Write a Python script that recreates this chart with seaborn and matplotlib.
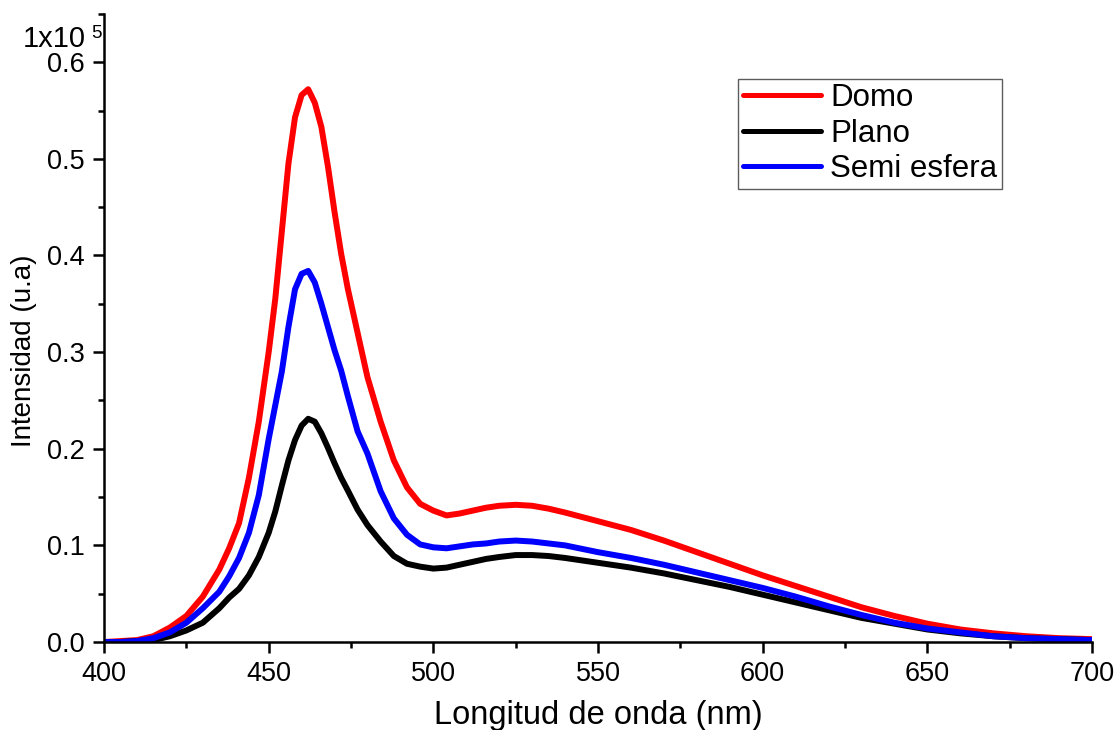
import numpy as np
import pandas as pd
import matplotlib
matplotlib.use("Agg")
import matplotlib.pyplot as plt
import seaborn as sns
from matplotlib.ticker import MultipleLocator

wavelength = [400, 405, 410, 415, 420, 425, 430, 435, 438, 441, 444, 447, 450, 452, 454, 456, 458, 460, 462,
              464, 466, 468, 470, 472, 474, 477, 480, 484, 488, 492, 496, 500, 504, 508, 512, 516, 520, 525,
              530, 535, 540, 550, 560, 570, 580, 590, 600, 610, 620, 630, 640, 650, 660, 670, 680, 690, 700]

domo = [0.000, 0.001, 0.002, 0.006, 0.015, 0.027, 0.047, 0.075, 0.097, 0.123, 0.170, 0.228, 0.300, 0.355, 0.425, 0.495, 0.543, 0.566, 0.572,
        0.558, 0.533, 0.492, 0.445, 0.402, 0.366, 0.320, 0.274, 0.228, 0.188, 0.160, 0.143, 0.136, 0.131, 0.133, 0.136, 0.139, 0.141, 0.142,
        0.141, 0.138, 0.134, 0.125, 0.116, 0.105, 0.093, 0.081, 0.069, 0.058, 0.047, 0.036, 0.027, 0.019, 0.013, 0.009, 0.006, 0.004, 0.003]

plano = [0.000, 0.000, 0.001, 0.002, 0.006, 0.012, 0.020, 0.035, 0.046, 0.055, 0.069, 0.088, 0.113, 0.135, 0.162, 0.188, 0.209, 0.224, 0.231,
         0.228, 0.216, 0.201, 0.185, 0.170, 0.157, 0.137, 0.121, 0.104, 0.089, 0.081, 0.078, 0.076, 0.077, 0.080, 0.083, 0.086, 0.088, 0.090,
         0.090, 0.089, 0.087, 0.082, 0.077, 0.071, 0.064, 0.057, 0.049, 0.041, 0.033, 0.025, 0.019, 0.013, 0.009, 0.006, 0.004, 0.003, 0.002]

semi = [0.000, 0.000, 0.001, 0.004, 0.010, 0.020, 0.035, 0.052, 0.068, 0.087, 0.113, 0.152, 0.210, 0.245, 0.280, 0.326, 0.365, 0.381, 0.384,
        0.372, 0.350, 0.326, 0.302, 0.281, 0.255, 0.218, 0.195, 0.156, 0.128, 0.111, 0.101, 0.098, 0.097, 0.099, 0.101, 0.102, 0.104, 0.105,
        0.104, 0.102, 0.100, 0.093, 0.087, 0.080, 0.072, 0.064, 0.056, 0.047, 0.037, 0.028, 0.020, 0.014, 0.010, 0.006, 0.004, 0.003, 0.002]

series_names = ["Domo", "Plano", "Semi esfera"]
colors = ["#ff0000", "#000000", "#0000ff"]
y_ticks = [0.0, 0.1, 0.2, 0.3, 0.4, 0.5, 0.6]
y_tick_labels = ["0.0", "0.1", "0.2", "0.3", "0.4", "0.5", "0.6"]

df = pd.concat([
    pd.DataFrame({"x": wavelength, "y": vals, "serie": name})
    for name, vals in zip(series_names, [domo, plano, semi])
], ignore_index=True)

sns.set_theme(style="ticks")
plt.rcParams['font.family'] = ['Liberation Sans', 'DejaVu Sans']

fig = plt.figure(figsize=(11.16, 7.3), dpi=100)
ax = fig.add_axes([0.0932, 0.1205, 0.8853, 0.8605])

sns.lineplot(data=df, x="x", y="y", hue="serie", hue_order=series_names,
             palette=dict(zip(series_names, colors)), linewidth=4.3, ax=ax)

ax.set_xlim(400, 700)
ax.set_ylim(0, 0.65)
ax.xaxis.set_major_locator(MultipleLocator(50))
ax.xaxis.set_minor_locator(MultipleLocator(25))
ax.set_yticks(y_ticks)
ax.set_yticklabels(y_tick_labels)
ax.yaxis.set_minor_locator(MultipleLocator(0.05))
ax.tick_params(axis="both", which="major", length=8, width=1.8, labelsize=19.5, direction="out",
               color="black", labelcolor="black", pad=6)
ax.tick_params(axis="both", which="minor", length=4.5, width=1.8, direction="out", color="black")

for s in ["top", "right"]:
    ax.spines[s].set_visible(False)
for s in ["left", "bottom"]:
    ax.spines[s].set_linewidth(1.8)
    ax.spines[s].set_color("black")

ax.set_xlabel("Longitud de onda (nm)", fontsize=23.5, labelpad=9, color="black")
ax.set_ylabel("Intensidad (u.a)", fontsize=20, color="black")
ax.yaxis.set_label_coords(-0.068, 0.463)

fig.text(23 / 1116, 1 - 47 / 730, "1x10", fontsize=21, ha="left", va="baseline", color="black")
fig.text(91 / 1116, 1 - 38 / 730, "5", fontsize=13.5, ha="left", va="baseline", color="black")

leg = ax.legend(loc="upper left", bbox_to_anchor=(0.6417, 0.897), borderaxespad=0, fontsize=22.5,
                frameon=True, fancybox=False, edgecolor="#333333", handlelength=2.5,
                handletextpad=0.3, borderpad=0.15, labelspacing=0.17, labelcolor="black")
leg.get_frame().set_linewidth(1.0)
for line in leg.get_lines():
    line.set_linewidth(3.6)

fig.savefig("out.png", dpi=100)
